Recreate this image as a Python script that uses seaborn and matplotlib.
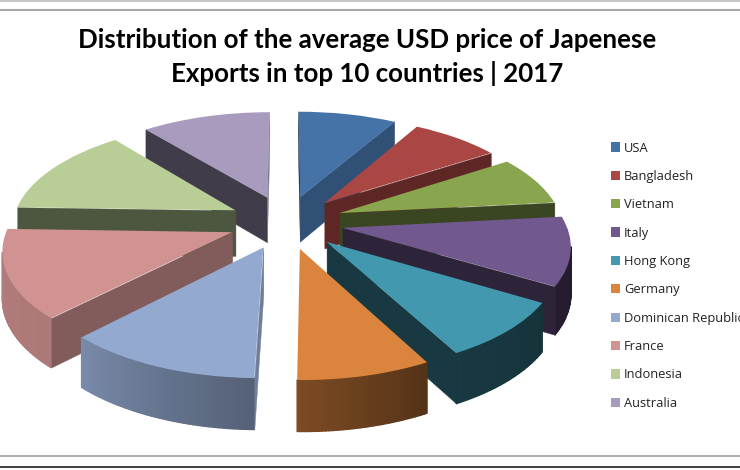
import numpy as np
import matplotlib
matplotlib.use("Agg")
import matplotlib.pyplot as plt
import matplotlib.transforms as mtrans
from matplotlib.collections import PolyCollection
import seaborn as sns

countries = ["USA", "Bangladesh", "Vietnam", "Italy", "Hong Kong", "Germany",
             "Dominican Republic", "France", "Indonesia", "Australia"]
shares = [8.3, 7.5, 7.5, 10.3, 8.6, 8.1, 11.9, 13.3, 13.6, 10.9]
hex_colors = ["#4572A7", "#AA4643", "#89A54E", "#71588F", "#4198AF",
              "#DB843D", "#93A9CF", "#D19392", "#B9CD96", "#A99BBD"]
title_text = "Distribution of the average USD price of Japenese\nExports in top 10 countries | 2017"

# projection of the tilted pie plane to figure pixels
CX, CY, AX_X, AX_Y, PERSP, DEPTH = 286.0, 222.0, 223.0, 104.0, 0.142, 46.0


def project(xy):
    xy = np.asarray(xy, dtype=float)
    w = 1 + PERSP * xy[..., 1]
    return np.stack([CX + AX_X * xy[..., 0] / w, CY - AX_Y * xy[..., 1] / w], axis=-1)


def drop(xy):
    return DEPTH / (1 + 0.6 * PERSP * np.asarray(xy)[..., 1])


class TiltTransform(mtrans.Transform):
    input_dims = 2
    output_dims = 2
    is_separable = False
    has_inverse = False

    def transform_non_affine(self, values):
        return project(values)


sns.set_theme(style="white")
palette = sns.color_palette(hex_colors)

fig = plt.figure(figsize=(7.4, 4.7), dpi=100)
ax = fig.add_axes([0, 0, 1, 1])
wedges, _ = ax.pie(shares, colors=palette, startangle=90, counterclock=False,
                   explode=[0.257] * len(shares), radius=1.0,
                   wedgeprops=dict(linewidth=0))
ax.set_aspect("auto")
ax.set_xlim(0, 740)
ax.set_ylim(470, 0)
ax.set_axis_off()

tilt = TiltTransform() + ax.transData
RIM_PHI, RIM_SHADE = [90, 150, 181, 224, 272], [0.30, 0.37, 0.57, 0.82, 0.86]
CUT_PHI, CUT_SHADE = [90, 120, 147, 175, 210, 245], [0.75, 0.70, 0.55, 0.42, 0.41, 0.37]


def visible_quad(a, b):
    pa, pb = project(a), project(b)
    qa, qb = pa + [0, drop(a)], pb + [0, drop(b)]
    quad = np.array([pa, pb, qb, qa])
    x, y = quad[:, 0], quad[:, 1]
    area = np.sum(x * np.roll(y, -1) - np.roll(x, -1) * y)
    return quad if area < 0 else None


order = sorted(range(len(wedges)),
               key=lambda i: -wedges[i].center[1])
for z, i in enumerate(order):
    w = wedges[i]
    w.set_transform(tilt)
    w.set_zorder(10 + 2 * z + 1)
    base = np.array(palette[i])
    c = np.array(w.center)
    th = np.radians(np.linspace(w.theta2, w.theta1, 40))
    rim = c + w.r * np.column_stack([np.cos(th), np.sin(th)])
    phi_s, phi_e = (90 - w.theta2) % 360, (90 - w.theta1) % 360
    if phi_e < phi_s:
        phi_e += 360
    polys, cols = [], []
    # outer rim first, so the cut faces stay crisp on top of its overlapping strokes
    for k in range(len(rim) - 1):
        q = visible_quad(rim[k], rim[k + 1])
        if q is not None:
            ph = (90 - np.degrees((th[k] + th[k + 1]) / 2)) % 360
            polys.append(q)
            cols.append(base * np.interp(ph, RIM_PHI, RIM_SHADE))
    if polys:
        ax.add_collection(PolyCollection(polys, facecolors=cols, edgecolors=cols,
                                         linewidths=1.0, zorder=10 + 2 * z),
                          autolim=False)
    # start cut, end cut
    polys, cols = [], []
    for a, b, n in [(c, rim[0], (phi_s - 90) % 360), (rim[-1], c, (phi_e + 90) % 360)]:
        q = visible_quad(a, b)
        if q is not None:
            polys.append(q)
            cols.append(base * np.interp(n, CUT_PHI, CUT_SHADE))
    if polys:
        ax.add_collection(PolyCollection(polys, facecolors=cols, edgecolors=cols,
                                         linewidths=0.3, zorder=10 + 2 * z),
                          autolim=False)

ax.text(367, 57, title_text, ha="center", va="center", fontsize=18.6,
        fontweight="bold", family="Lato", color="black", linespacing=1.4, zorder=50)

ax.legend(wedges, countries, loc="upper left", bbox_to_anchor=(611, 141.5),
          bbox_transform=ax.transData, frameon=False, borderpad=0, borderaxespad=0,
          prop=dict(family="Open Sans", size=9.3), handlelength=0.72, handleheight=0.72,
          handletextpad=0.3, labelspacing=1.19, labelcolor="#222222")

for y, col, lw in [(0.5, "#C4C4C4", 1.5), (9.5, "#A8A8A8", 1.5),
                   (455.5, "#A0A0A0", 1.2), (467, "#404040", 1.4)]:
    ax.axhline(y, color=col, lw=lw, zorder=60)

fig.savefig("out.png", dpi=100)
